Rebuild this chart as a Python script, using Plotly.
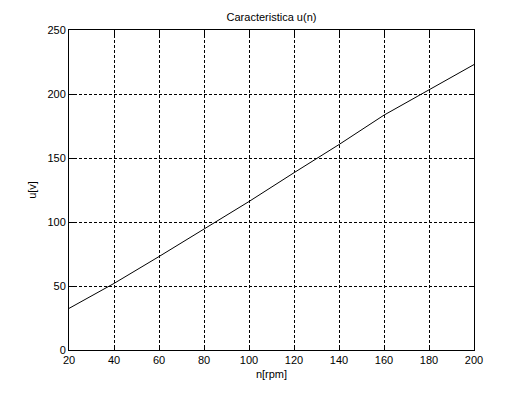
import plotly.graph_objects as go

n_rpm = [20, 40, 60, 80, 100, 120, 140, 160, 180, 200]
u_v = [32.5, 52, 73, 94.5, 116, 138.5, 160.5, 183.5, 203, 223]

x_ticks = [20, 40, 60, 80, 100, 120, 140, 160, 180, 200]
y_ticks = [0, 50, 100, 150, 200, 250]

fig = go.Figure()
fig.add_trace(go.Scatter(x=n_rpm, y=u_v, mode="lines",
                         line=dict(color="black", width=1)))

axis_common = dict(
    showline=True, linecolor="black", linewidth=1, mirror="allticks",
    ticks="inside", ticklen=5, tickcolor="black",
    showgrid=True, gridcolor="black", gridwidth=1, griddash="3px,2px",
    zeroline=False, automargin=False,
    tickfont=dict(family="Arial", size=11, color="black"),
)

W, H = 516, 385
fig.update_layout(
    width=W, height=H,
    margin=dict(l=61, r=50, t=22, b=43),
    paper_bgcolor="white", plot_bgcolor="white",
    showlegend=False,
    title=dict(text="Caracteristica u(n)", x=0.5, xref="paper", xanchor="center",
               y=1 - 9 / H, yanchor="middle",
               font=dict(family="Arial", size=11, color="black")),
    font=dict(family="Arial", size=11, color="black"),
)
fig.update_xaxes(range=[20, 200], tickvals=x_ticks, title=dict(text="n[rpm]", standoff=5,
                 font=dict(family="Arial", size=11)), **axis_common)
fig.update_yaxes(range=[0, 250], tickvals=y_ticks, title=dict(text="u[v]", standoff=8,
                 font=dict(family="Arial", size=11)), **axis_common)

fig.write_html("out.html")
